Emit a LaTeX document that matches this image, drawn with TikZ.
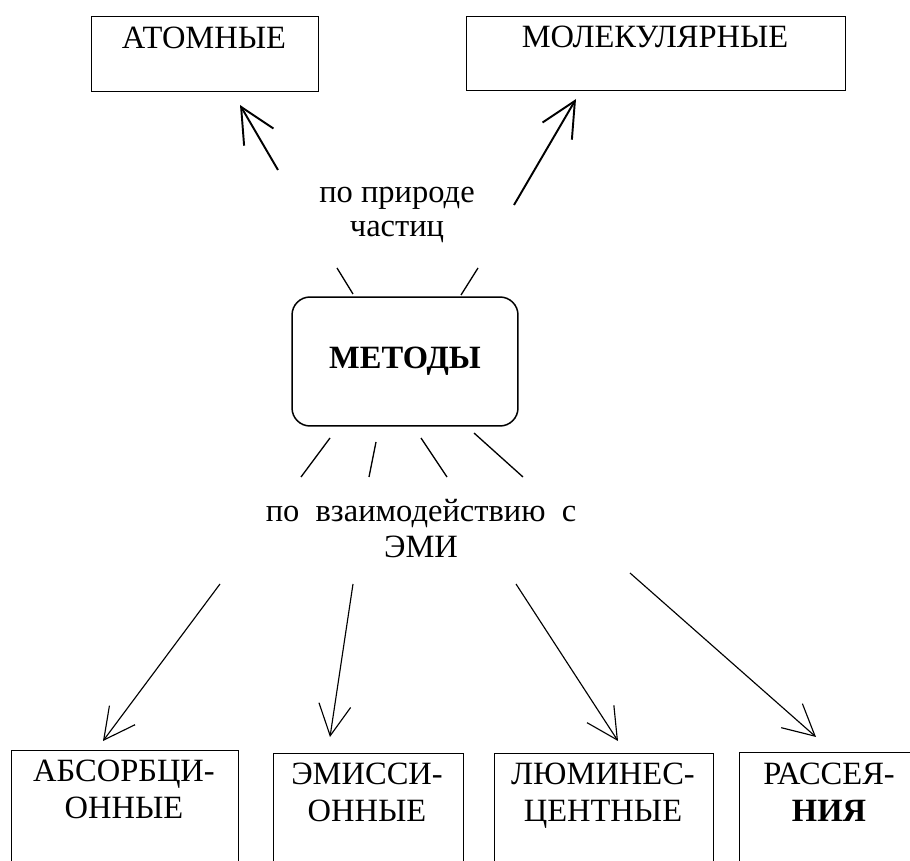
\documentclass[tikz,border=0pt]{standalone}
\usepackage{fontspec}
\setmainfont{Liberation Serif}
\usetikzlibrary{arrows.meta,positioning}

\begin{document}
\begin{tikzpicture}
  [x=0.02cm,y=-0.02cm,
   box/.style={draw,line width=0.85pt,inner sep=0pt},
   txt/.style={inner sep=0pt,anchor=north,align=center,font=\rmfamily\fontsize{18.5}{21}\selectfont},
   ray/.style={line width=0.75pt},
   bigarr/.style={-{Straight Barb[length=0.7cm,width=0.68cm]},line width=1.1pt},
   arr/.style={-{Straight Barb[length=0.62cm,width=0.64cm]},line width=0.65pt}]
  \clip (0,0) rectangle (910,861);

  % boxes
  \node[box,anchor=north west,minimum width=4.54cm,minimum height=1.5cm] (atombox) at (91,16) {};
  \node[box,anchor=north west,minimum width=7.58cm,minimum height=1.48cm] (molbox) at (466,16) {};
  \node[box,rounded corners=0.36cm,minimum width=4.52cm,minimum height=2.58cm,
        font=\rmfamily\fontsize{18.5}{21}\selectfont\bfseries] (methods) at (405,361.5) {МЕТОДЫ};
  \node[box,anchor=north west,minimum width=4.54cm,minimum height=2.6cm] (absbox) at (11,750) {};
  \node[box,anchor=north west,minimum width=3.8cm,minimum height=2.6cm] (emibox) at (273,753) {};
  \node[box,anchor=north west,minimum width=4.38cm,minimum height=2.6cm] (lumbox) at (494,753) {};
  \node[box,anchor=north west,minimum width=4.0cm,minimum height=2.6cm] (scabox) at (739,752) {};

  % texts
  \node[txt] (atom) at (204,27) {АТОМНЫЕ};
  \node[txt] (mol) at (655,26) {МОЛЕКУЛЯРНЫЕ};
  \node[txt,font=\rmfamily\fontsize{18.5}{19.5}\selectfont] (nature) at (397,187) {по природе\\частиц};
  \node[txt,font=\rmfamily\fontsize{18.5}{20.5}\selectfont] (emr) at (421,499) {по\ \ взаимодействию\ \ с\\ЭМИ};
  \node[txt] (abs) at (124,760) {АБСОРБЦИ-\\ОННЫЕ};
  \node[txt] (emis) at (367,763) {ЭМИССИ-\\ОННЫЕ};
  \node[txt] (lum) at (603,763) {ЛЮМИНЕС-\\ЦЕНТНЫЕ};
  \node[txt] (sca) at (829,763) {РАССЕЯ-\\\textbf{НИЯ}};

  % ends of the connectors
  \coordinate (t1) at (278,170); \coordinate (t1e) at (240,105);
  \coordinate (t2) at (514,205); \coordinate (t2e) at (576,99);
  \coordinate (u1) at (337,268); \coordinate (u1e) at (353,294);
  \coordinate (u2) at (478,268); \coordinate (u2e) at (461,295);
  \coordinate (d1) at (330,438); \coordinate (d1e) at (301,477);
  \coordinate (d2) at (376,442); \coordinate (d2e) at (369,477);
  \coordinate (d3) at (421,438); \coordinate (d3e) at (447,477);
  \coordinate (d4) at (474,433); \coordinate (d4e) at (523,477);
  \coordinate (b1) at (220,584); \coordinate (b1e) at (103,741);
  \coordinate (b2) at (353,584); \coordinate (b2e) at (330,737);
  \coordinate (b3) at (516,584); \coordinate (b3e) at (618,741);
  \coordinate (b4) at (630,573); \coordinate (b4e) at (816,737);

\foreach \from/\to in
{t1/t1e, t2/t2e}
    \draw[bigarr] (\from) -- (\to);
\foreach \from/\to in
{u1/u1e, u2/u2e, d1/d1e, d2/d2e, d3/d3e, d4/d4e}
    \draw[ray] (\from) -- (\to);
\foreach \from/\to in
{b1/b1e, b2/b2e, b3/b3e, b4/b4e}
    \draw[arr] (\from) -- (\to);
\end{tikzpicture}
\end{document}
